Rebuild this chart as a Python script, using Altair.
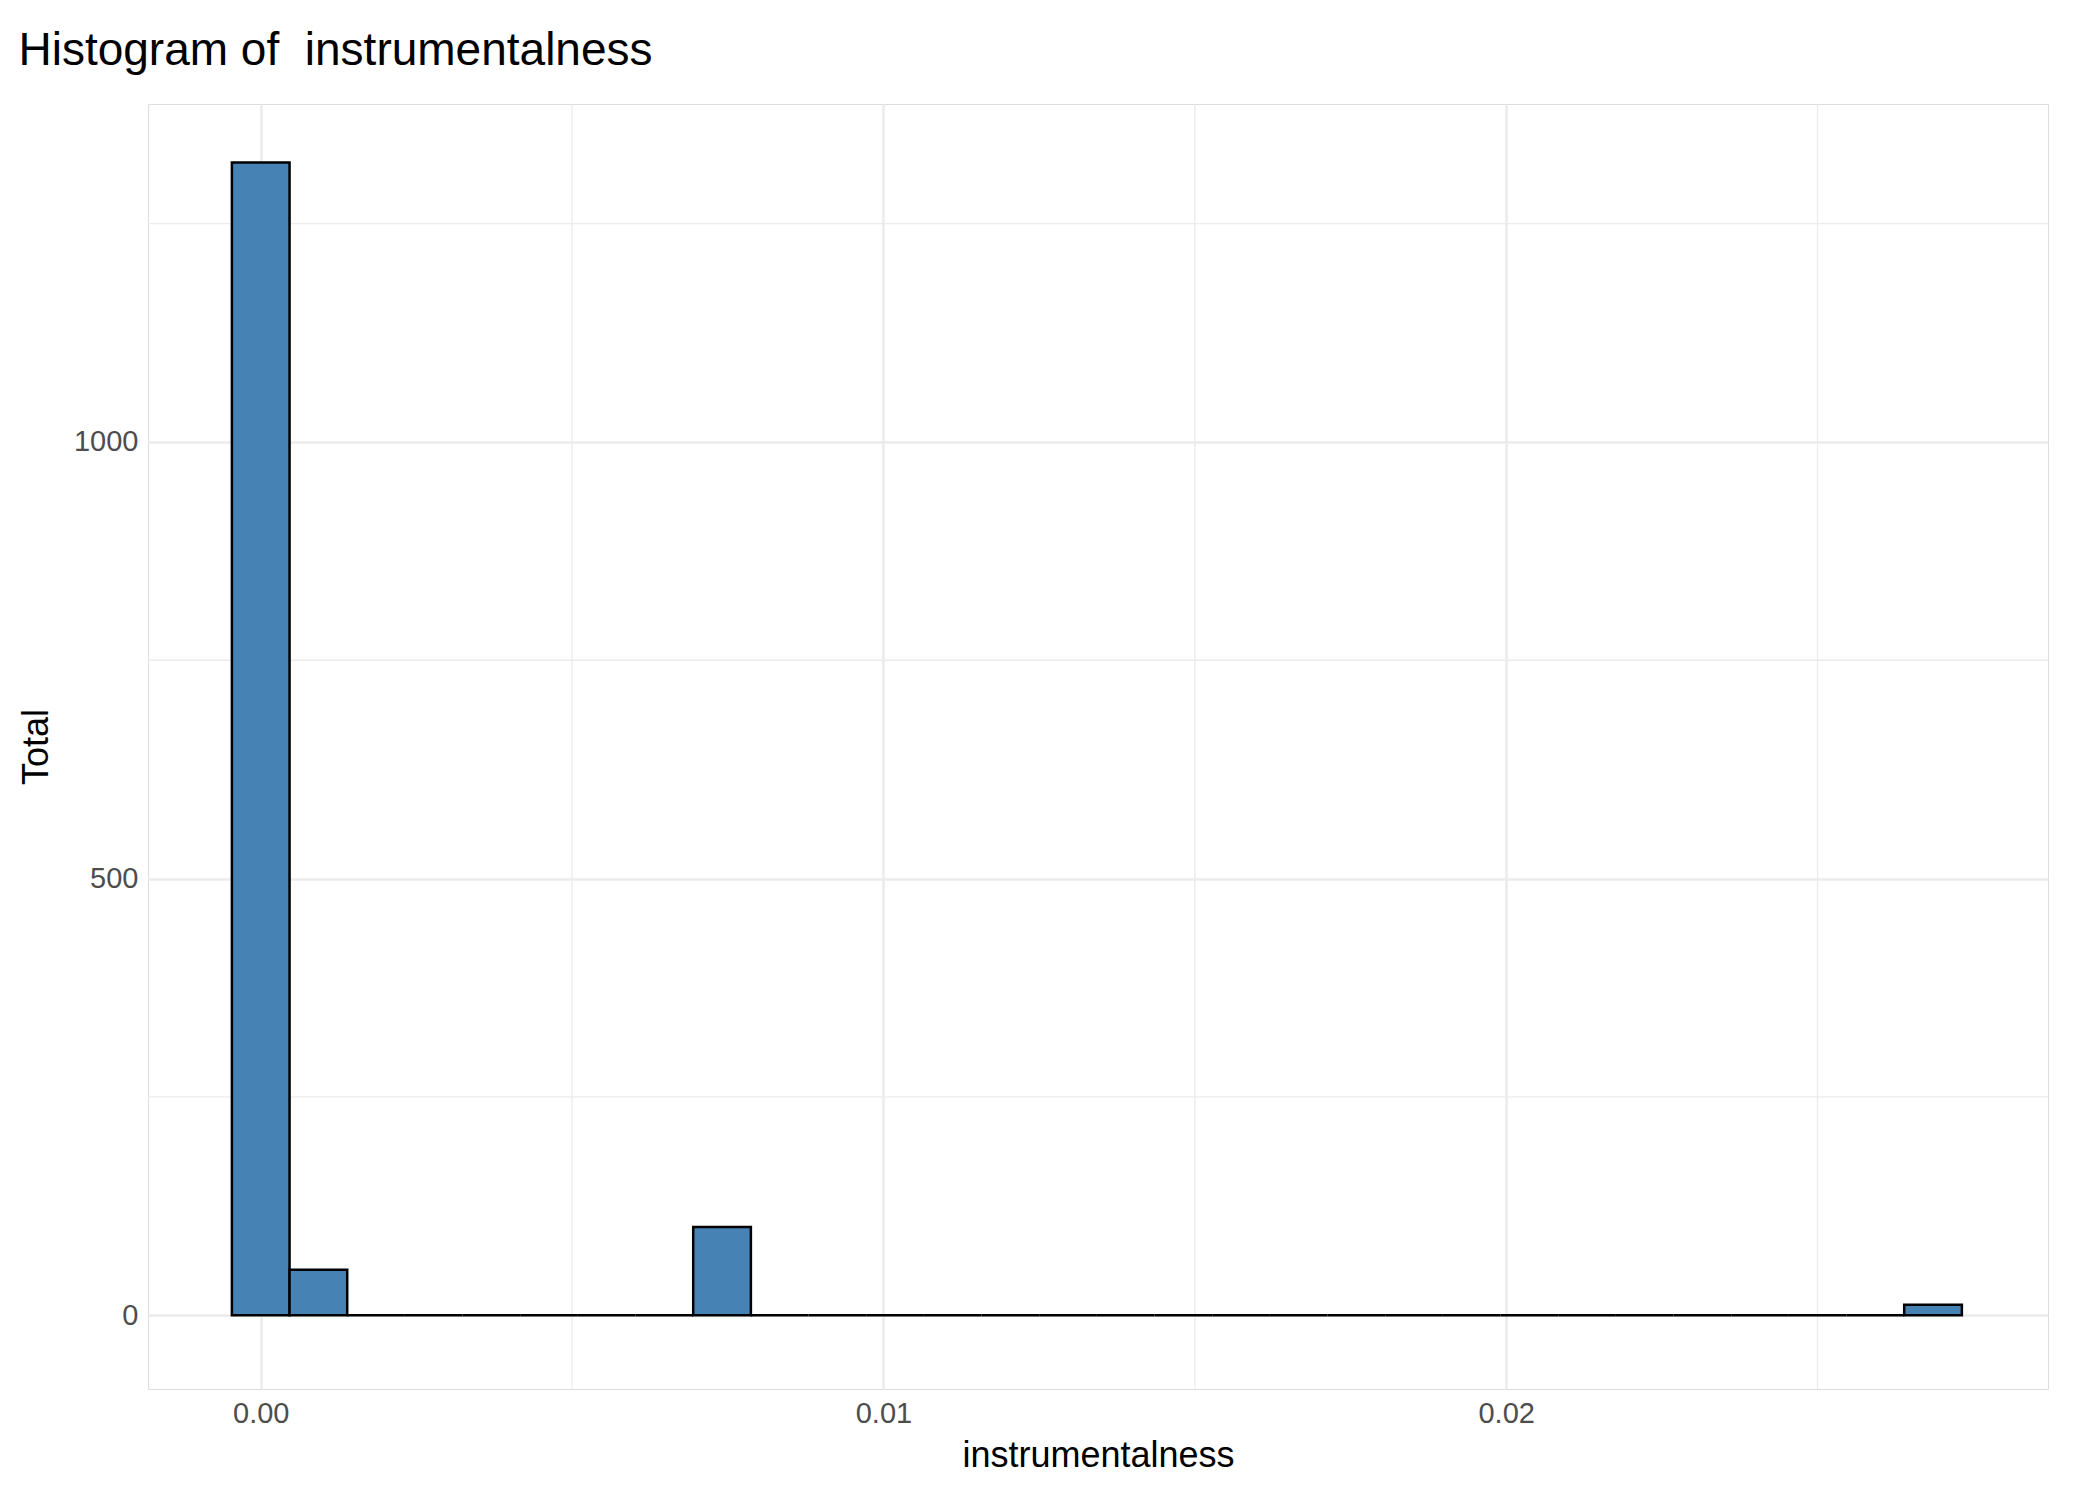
import altair as alt
import pandas as pd

binwidth = 0.000926
counts = [1320, 52, 0, 0, 0, 0, 0, 0, 101, 0, 0, 0, 0, 0, 0, 0, 0, 0, 0, 0,
          0, 0, 0, 0, 0, 0, 0, 0, 0, 12]
centers = [i * binwidth for i in range(len(counts))]
df = pd.DataFrame({"lo": [c - binwidth / 2 for c in centers],
                   "hi": [c + binwidth / 2 for c in centers],
                   "n": counts})
xminor = [0.005, 0.015, 0.025]
yminor = [250, 750, 1250]

xs = alt.Scale(domain=[-0.00181, 0.0287], nice=False, zero=False)
ys = alt.Scale(domain=[-84.5, 1387], nice=False, zero=False)

common = dict(grid=True, gridColor="#ebebeb", gridWidth=2.5, domain=False, ticks=False,
              labelFontSize=29, labelColor="#4d4d4d", titleFontSize=36,
              titleFontWeight="normal", titleColor="black", labelPadding=10,
              labelFont="Liberation Sans", titleFont="Liberation Sans")

bars = alt.Chart(df).mark_bar(fill="#4682B4", stroke="black", strokeWidth=2.5).encode(
    x=alt.X("lo:Q", scale=xs, title="instrumentalness",
            axis=alt.Axis(values=[0, 0.01, 0.02], format=".2f", titlePadding=10, **common)),
    x2="hi:Q",
    y=alt.Y("n:Q", scale=ys, title="Total",
            axis=alt.Axis(values=[0, 500, 1000], format="d", titlePadding=18, **common)),
    y2=alt.datum(0),
)
vmin = alt.Chart(pd.DataFrame({"v": xminor})).mark_rule(color="#ebebeb", strokeWidth=1.3).encode(
    x=alt.X("v:Q", scale=xs))
hmin = alt.Chart(pd.DataFrame({"v": yminor})).mark_rule(color="#ebebeb", strokeWidth=1.3).encode(
    y=alt.Y("v:Q", scale=ys))

chart = alt.layer(vmin, hmin, bars).properties(
    width=1900, height=1285,
    padding={"left": 10, "top": 20, "right": 5, "bottom": 5},
    title=alt.TitleParams("Histogram of\u00a0 instrumentalness", anchor="start", fontSize=46,
                          fontWeight="normal", font="Liberation Sans", color="black", offset=28),
).configure_view(strokeWidth=0).configure(background="white")

chart.save("out.html", embed_options={"renderer": "svg", "actions": False})
